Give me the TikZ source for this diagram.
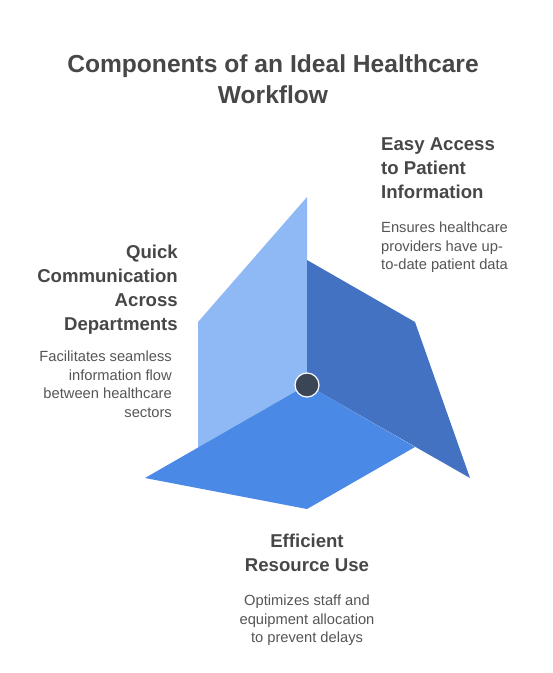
\documentclass[tikz,border=0pt]{standalone}
\usepackage{fontspec}
\setmainfont{Liberation Sans}
\definecolor{lightface}{HTML}{8FB9F5}
\definecolor{darkface}{HTML}{4472C2}
\definecolor{bottomface}{HTML}{4A89E6}
\definecolor{hubfill}{HTML}{3A4556}
\definecolor{headcol}{HTML}{474747}
\definecolor{desccol}{HTML}{555555}
\tikzset{
  face/.style={draw=none},
  heading/.style={inner sep=0pt, text=headcol, font=\fontsize{18.6}{24}\selectfont\bfseries},
  desc/.style={inner sep=0pt, text=desccol, font=\fontsize{14.7}{18.5}\selectfont},
  titletext/.style={inner sep=0pt, text=headcol, font=\fontsize{24.6}{31}\selectfont\bfseries, align=center}
}
\begin{document}
\begin{tikzpicture}[x=1pt,y=-1pt]
\useasboundingbox (0,0) rectangle (553,673);
% faces
\coordinate (c) at (307,385);
\fill[lightface] (307,197) -- (198,322) -- (198,448) -- (c) -- cycle;
\fill[darkface] (307,260) -- (415,322) -- (470,478) -- (c) -- cycle;
\fill[bottomface] (c) -- (145,478) -- (307,509) -- (415,447) -- cycle;
\node[circle, fill=hubfill, draw=white, line width=1.2pt, minimum size=24pt, inner sep=0pt] (hub) at (c) {};
% title
\node[titletext, anchor=north] (title) at (273,54) {Components of an Ideal Healthcare\\Workflow};
% right
\node[heading, anchor=north west, align=left] (h1) at (381,137) {Easy Access\\to Patient\\Information};
\node[desc, anchor=north west, align=left] (d1) at (381,222) {Ensures healthcare\\providers have up-\\to-date patient data};
% left
\node[heading, anchor=north east, align=right] (h2) at (178,245) {Quick\\Communication\\Across\\Departments};
\node[desc, anchor=north east, align=right] (d2) at (172,351) {Facilitates seamless\\information flow\\between healthcare\\sectors};
% bottom
\node[heading, anchor=north, align=center] (h3) at (307,534) {Efficient\\Resource Use};
\node[desc, anchor=north, align=center] (d3) at (307,595) {Optimizes staff and\\equipment allocation\\to prevent delays};
\end{tikzpicture}
\end{document}
